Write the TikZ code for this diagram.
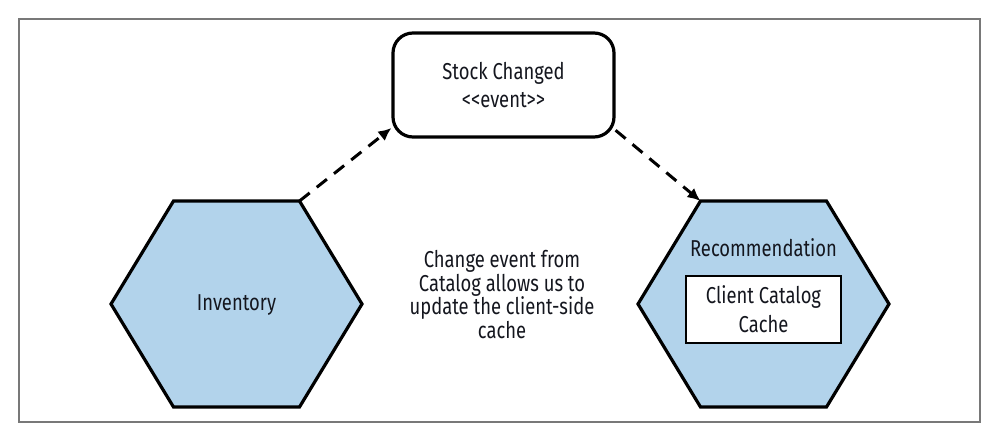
\documentclass[tikz,border=0pt]{standalone}
\usepackage{fontspec}
\setmainfont{Fira Sans}[FakeStretch=0.8]
\usetikzlibrary{arrows.meta}

\definecolor{hexblue}{RGB}{178,211,235}
\definecolor{framegray}{RGB}{120,120,120}
\definecolor{inkblack}{RGB}{20,22,30}

\tikzset{
  hexagon/.style={draw=black, fill=hexblue, line width=3.2pt, line join=miter},
  eventbox/.style={draw=black, line width=3.2pt, rounded corners=20pt,
    minimum width=221pt, minimum height=104pt, align=center},
  cachebox/.style={draw=black, fill=white, line width=2.6pt,
    minimum width=155pt, minimum height=67pt, align=center},
  flow/.style={-{Latex[length=13pt,width=12pt]}, line width=3pt,
    dash pattern=on 13pt off 9pt},
  txt/.style={font=\fontsize{23}{21.7}\selectfont, text=inkblack, align=center}
}

\begin{document}
\begin{tikzpicture}[x=1pt, y=-1pt]
    \useasboundingbox (0,0) rectangle (998,434);

    % Outer frame
    \draw[framegray, line width=1.2pt] (19,19) rectangle (980,422);

    % Hexagons (Inventory and Recommendation)
    \foreach \n/\cx in {inv/236.5, rec/763.5} {
        \filldraw[hexagon] (\cx-125.5,304) -- (\cx-63,201) -- (\cx+63,201)
            -- (\cx+125.5,304) -- (\cx+63,407) -- (\cx-63,407) -- cycle;
        \coordinate (\n-nw) at (\cx-63,201);
        \coordinate (\n-ne) at (\cx+63,201);
    }

    % Event
    \node[eventbox, txt] (event) at (503.5,85) {Stock Changed\\[7pt]{<}{<}event{>}{>}};

    % Labels
    \node[txt] (inventory) at (236.5,305) {Inventory};
    \node[txt] (recommendation) at (763.5,248) {Recommendation};
    \node[cachebox, txt] (cache) at (763.5,309.5) {Client Catalog\\[6pt]Cache};
    \node[txt] (note) at (502,294.5) {Change event from\\Catalog allows us to\\update the client-side\\cache};

    % Event flow
    \draw[flow] (inv-ne) -- (event.201);
    \draw[flow] (event.-22) -- (rec-nw);
\end{tikzpicture}
\end{document}
